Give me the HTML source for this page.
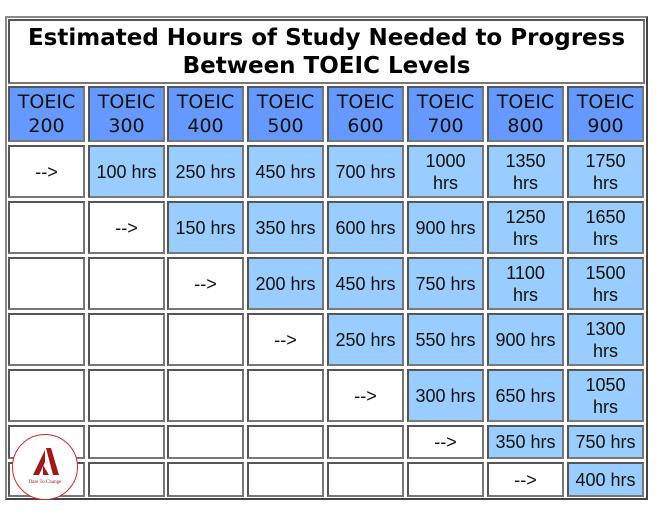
<!DOCTYPE html>
<html><head><meta charset="utf-8"><style>
body{margin:0;width:660px;height:514px;background:#fff;position:relative;overflow:hidden;font-family:"Liberation Sans",Arial,sans-serif}
.o{position:absolute;left:5px;top:16px;width:639px;height:480px;border:2px solid #888;border-right-color:#444;border-bottom-color:#444}
.c{position:absolute;box-sizing:border-box;border:2px solid #777;border-top-color:#555;border-left-color:#555;display:flex;align-items:center;justify-content:center;text-align:center;font-size:18px;line-height:22px;color:#111;background:#fff}
.h{background:#6699ff;font-family:"DejaVu Sans",Verdana,sans-serif;font-size:19px;line-height:24px}
.v{background:#99ccff}
.t{font-family:"DejaVu Sans",Verdana,sans-serif;font-weight:bold;font-size:23px;line-height:28px;color:#000}
</style></head><body>
<div class="o"></div>
<div class="c t" style="left:8px;top:19px;width:637px;height:65px">Estimated Hours of Study Needed to Progress<br>Between TOEIC Levels</div>
<div id="g"></div>
<div style="position:absolute;left:12px;top:434px;width:64px;height:64px;border:1.5px solid #c03030;border-radius:50%;background:#fff;">
<svg width="64" height="64" viewBox="0 0 64 64"><polygon points="32,15 20,40 26,40 32,27" fill="#a01818"/><polygon points="33,13 38,13 46,40 40,40" fill="#a01818"/><polygon points="30,30 36,40 30,40" fill="#a01818"/>
<text x="32" y="48" font-size="5" text-anchor="middle" fill="#a01818" font-family="Liberation Serif,serif">Dare To Change</text></svg></div>
<script>
var L=[8,88,167,247,327,407,487,567],W=[77,77,77,77,77,77,77,77];
var R=[[145,53],[201,53],[257,53],[313,53],[369,53],[425,34],[462,35]];
var D=[[100,250,450,700,1000,1350,1750],[150,350,600,900,1250,1650],[200,450,750,1100,1500],[250,550,900,1300],[300,650,1050],[350,750],[400]];
var s="";
for(var j=0;j<8;j++)s+='<div class="c h" style="left:'+L[j]+'px;top:86px;width:'+W[j]+'px;height:56px">TOEIC<br>'+(200+100*j)+'</div>';
for(var i=0;i<7;i++)for(var j=0;j<8;j++){var cls="c",tx="";
if(j==i)tx="--&gt;";else if(j>i){cls+=" v";var v=D[i][j-i-1];tx=v>=1000?v+"<br>hrs":v+" hrs";}
s+='<div class="'+cls+'" style="left:'+L[j]+'px;top:'+R[i][0]+'px;width:'+W[j]+'px;height:'+R[i][1]+'px">'+tx+'</div>';}
document.getElementById("g").innerHTML=s;
</script>
</body></html>
